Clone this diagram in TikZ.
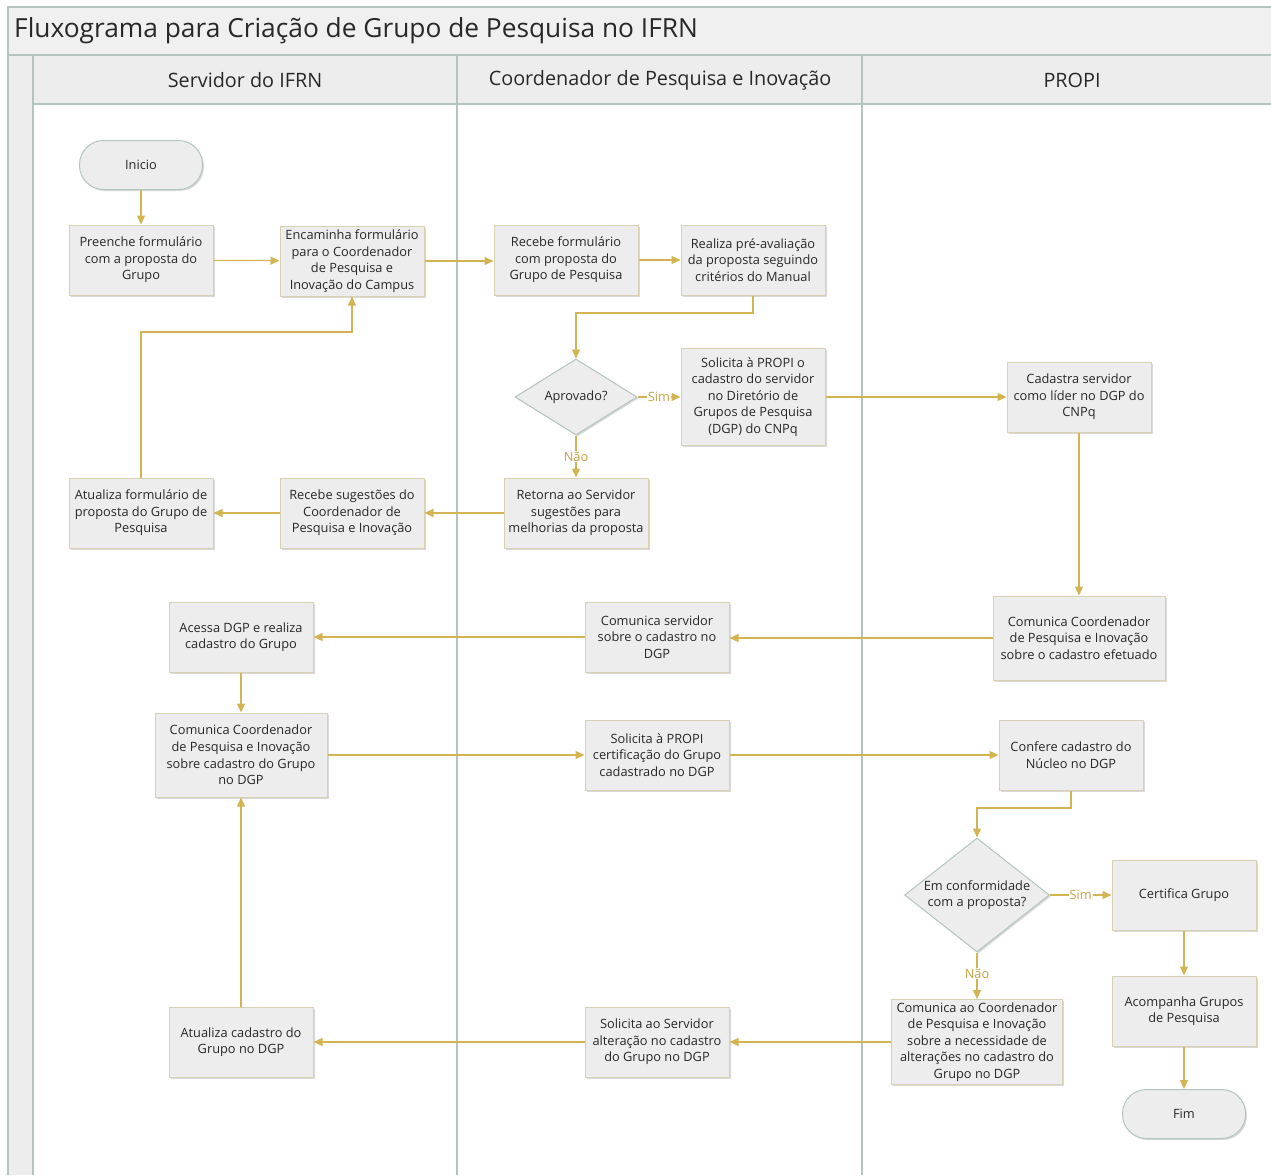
\documentclass[tikz,border=0pt]{standalone}
\usepackage{fontspec}
\setmainfont{Open Sans}
\usetikzlibrary{arrows.meta,shapes.geometric,shadows,calc}
\definecolor{gold}{RGB}{212,180,82}
\definecolor{goldtxt}{RGB}{196,164,70}
\definecolor{boxfill}{RGB}{237,237,237}
\definecolor{boxline}{RGB}{217,208,178}
\definecolor{laneline}{RGB}{180,197,189}
\definecolor{txt}{RGB}{40,40,40}
\tikzset{
  shad/.style={drop shadow={shadow xshift=1.5pt, shadow yshift=-1.5pt, opacity=0.15, fill=black}},
  stepbox/.style={rectangle, draw=boxline, line width=1pt, fill=boxfill, text=txt,
    minimum width=144pt, minimum height=70pt, inner sep=2pt, align=center,
    font=\fontsize{12.8}{16.6}\selectfont, shad},
  widebox/.style={stepbox, minimum width=172pt, minimum height=84pt},
  term/.style={rectangle, rounded corners=24pt, draw=laneline, line width=1pt, fill=boxfill, text=txt,
    minimum width=123pt, minimum height=49pt, font=\fontsize{12.8}{16.6}\selectfont, shad},
  decis/.style={diamond, draw=laneline, line width=1pt, fill=boxfill, text=txt, inner sep=0pt,
    align=center, font=\fontsize{12.8}{16.6}\selectfont, shad},
  flow/.style={draw=gold, line width=1.2pt, -{Triangle[length=9pt,width=8pt]}},
  lbl/.style={fill=white, text=goldtxt, inner sep=1pt, font=\fontsize{12.8}{15}\selectfont},
  lane/.style={draw=laneline, line width=1.2pt},
  hdr/.style={text=txt, font=\fontsize{19.8}{24}\selectfont}
}
\begin{document}
\begin{tikzpicture}[x=1pt,y=-1pt]
\useasboundingbox (0,0) rectangle (1271,1175);
\fill[white] (0,0) rectangle (1271,1175);
% frame
\fill[boxfill!85!white] (8,7) rectangle (1271,55);
\fill[boxfill] (8,55) rectangle (33,1175);
\fill[boxfill] (33,55) rectangle (1271,104);
\draw[lane] (1271,7) -- (8,7) -- (8,1175);
\draw[lane] (8,55) -- (1271,55);
\draw[lane] (33,104) -- (1271,104);
\draw[lane] (33,55) -- (33,1175);
\draw[lane] (457,55) -- (457,1175);
\draw[lane] (862,55) -- (862,1175);
\node[anchor=west, text=txt, font=\fontsize{26.3}{31}\selectfont, inner sep=0pt] (title) at (14,31) {Fluxograma para Criação de Grupo de Pesquisa no IFRN};
\node[hdr] (h1) at (245,80) {Servidor do IFRN};
\node[hdr] (h2) at (660,80) {Coordenador de Pesquisa e Inovação};
\node[hdr] (h3) at (1072,80) {PROPI};

% lane 1
\node[term] (ini) at (141,165) {Inicio};
\node[stepbox] (pre) at (141,260) {Preenche formulário\\com a proposta do\\Grupo};
\node[stepbox] (enc) at (352,261) {Encaminha formulário\\para o Coordenador\\de Pesquisa e\\Inovação do Campus};
\node[stepbox] (atf) at (141,513) {Atualiza formulário de\\proposta do Grupo de\\Pesquisa};
\node[stepbox] (rsu) at (352,513) {Recebe sugestões do\\Coordenador de\\Pesquisa e Inovação};
\node[stepbox] (ace) at (241,637) {Acessa DGP e realiza\\cadastro do Grupo};
\node[widebox] (cc1) at (241,755) {Comunica Coordenador\\de Pesquisa e Inovação\\sobre cadastro do Grupo\\no DGP};
\node[stepbox] (atc) at (241,1042) {Atualiza cadastro do\\Grupo no DGP};

% lane 2
\node[stepbox] (rfo) at (566,260) {Recebe formulário\\com proposta do\\Grupo de Pesquisa};
\node[stepbox] (rpa) at (753,260) {Realiza pré-avaliação\\da proposta seguindo\\critérios do Manual};
\node[decis, minimum width=122pt, minimum height=76pt] (apr) at (576,397) {Aprovado?};
\node[stepbox, minimum height=97pt] (sol) at (753,397) {Solicita à PROPI o\\cadastro do servidor\\no Diretório de\\Grupos de Pesquisa\\(DGP) do CNPq};
\node[stepbox] (ret) at (576,513) {Retorna ao Servidor\\sugestões para\\melhorias da proposta};
\node[stepbox] (cse) at (657,637) {Comunica servidor\\sobre o cadastro no\\DGP};
\node[stepbox] (scg) at (657,755) {Solicita à PROPI\\certificação do Grupo\\cadastrado no DGP};
\node[stepbox] (ssa) at (657,1042) {Solicita ao Servidor\\alteração no cadastro\\do Grupo no DGP};

% lane 3
\node[stepbox] (cad) at (1079,397) {Cadastra servidor\\como líder no DGP do\\CNPq};
\node[widebox] (cc3) at (1079,638) {Comunica Coordenador\\de Pesquisa e Inovação\\sobre o cadastro efetuado};
\node[stepbox] (con) at (1071,755) {Confere cadastro do\\Núcleo no DGP};
\node[decis, aspect=1.3, minimum width=144pt, minimum height=114pt] (emc) at (977,895) {Em conformidade\\com a proposta?};
\node[stepbox] (cer) at (1184,895) {Certifica Grupo};
\node[stepbox] (aco) at (1184,1011) {Acompanha Grupos\\de Pesquisa};
\node[widebox, minimum width=171pt, minimum height=85pt] (cao) at (977,1042) {Comunica ao Coordenador\\de Pesquisa e Inovação\\sobre a necessidade de\\alterações no cadastro do\\Grupo no DGP};
\node[term] (fim) at (1184,1114) {Fim};

% connectors
\draw[flow] (ini) -- (pre);
\draw[flow] (pre) -- (enc);
\draw[flow] (enc.east) -- (enc.east -| rfo.west);
\draw[flow] (rfo) -- (rpa);
\coordinate (k1) at (753,313);
\draw[flow] (rpa.south) -- (k1) -| (apr.north);
\draw[flow] (apr.east) -- node[lbl] {Sim} (sol.west |- apr.east);
\draw[flow] (apr.south) -- node[lbl] {Não} (ret.north);
\draw[flow] (sol.east |- cad.west) -- (cad.west);
\draw[flow] (cad.south) -- (cc3.north);
\draw[flow] (cc3.west) -- (cse.east |- cc3.west);
\draw[flow] (cse) -- (ace);
\draw[flow] (ace) -- (cc1);
\draw[flow] (cc1) -- (scg);
\draw[flow] (scg) -- (scg.east -| con.west);
\coordinate (k2) at (1071,808);
\draw[flow] (con.south) -- (k2) -| (emc.north);
\draw[flow] (emc.east) -- node[lbl] {Sim} (cer.west);
\draw[flow] (emc.south) -- node[lbl, pos=0.45] {Não} (cao.north);
\draw[flow] (cer) -- (aco);
\draw[flow] (aco) -- (fim);
\draw[flow] (cao.west) -- (ssa.east |- cao.west);
\draw[flow] (ssa) -- (atc);
\draw[flow] (atc) -- (cc1);
\draw[flow] (ret) -- (rsu);
\draw[flow] (rsu) -- (atf);
\coordinate (k3) at (141,332);
\draw[flow] (atf.north) -- (k3) -| (enc.south);
\end{tikzpicture}
\end{document}
